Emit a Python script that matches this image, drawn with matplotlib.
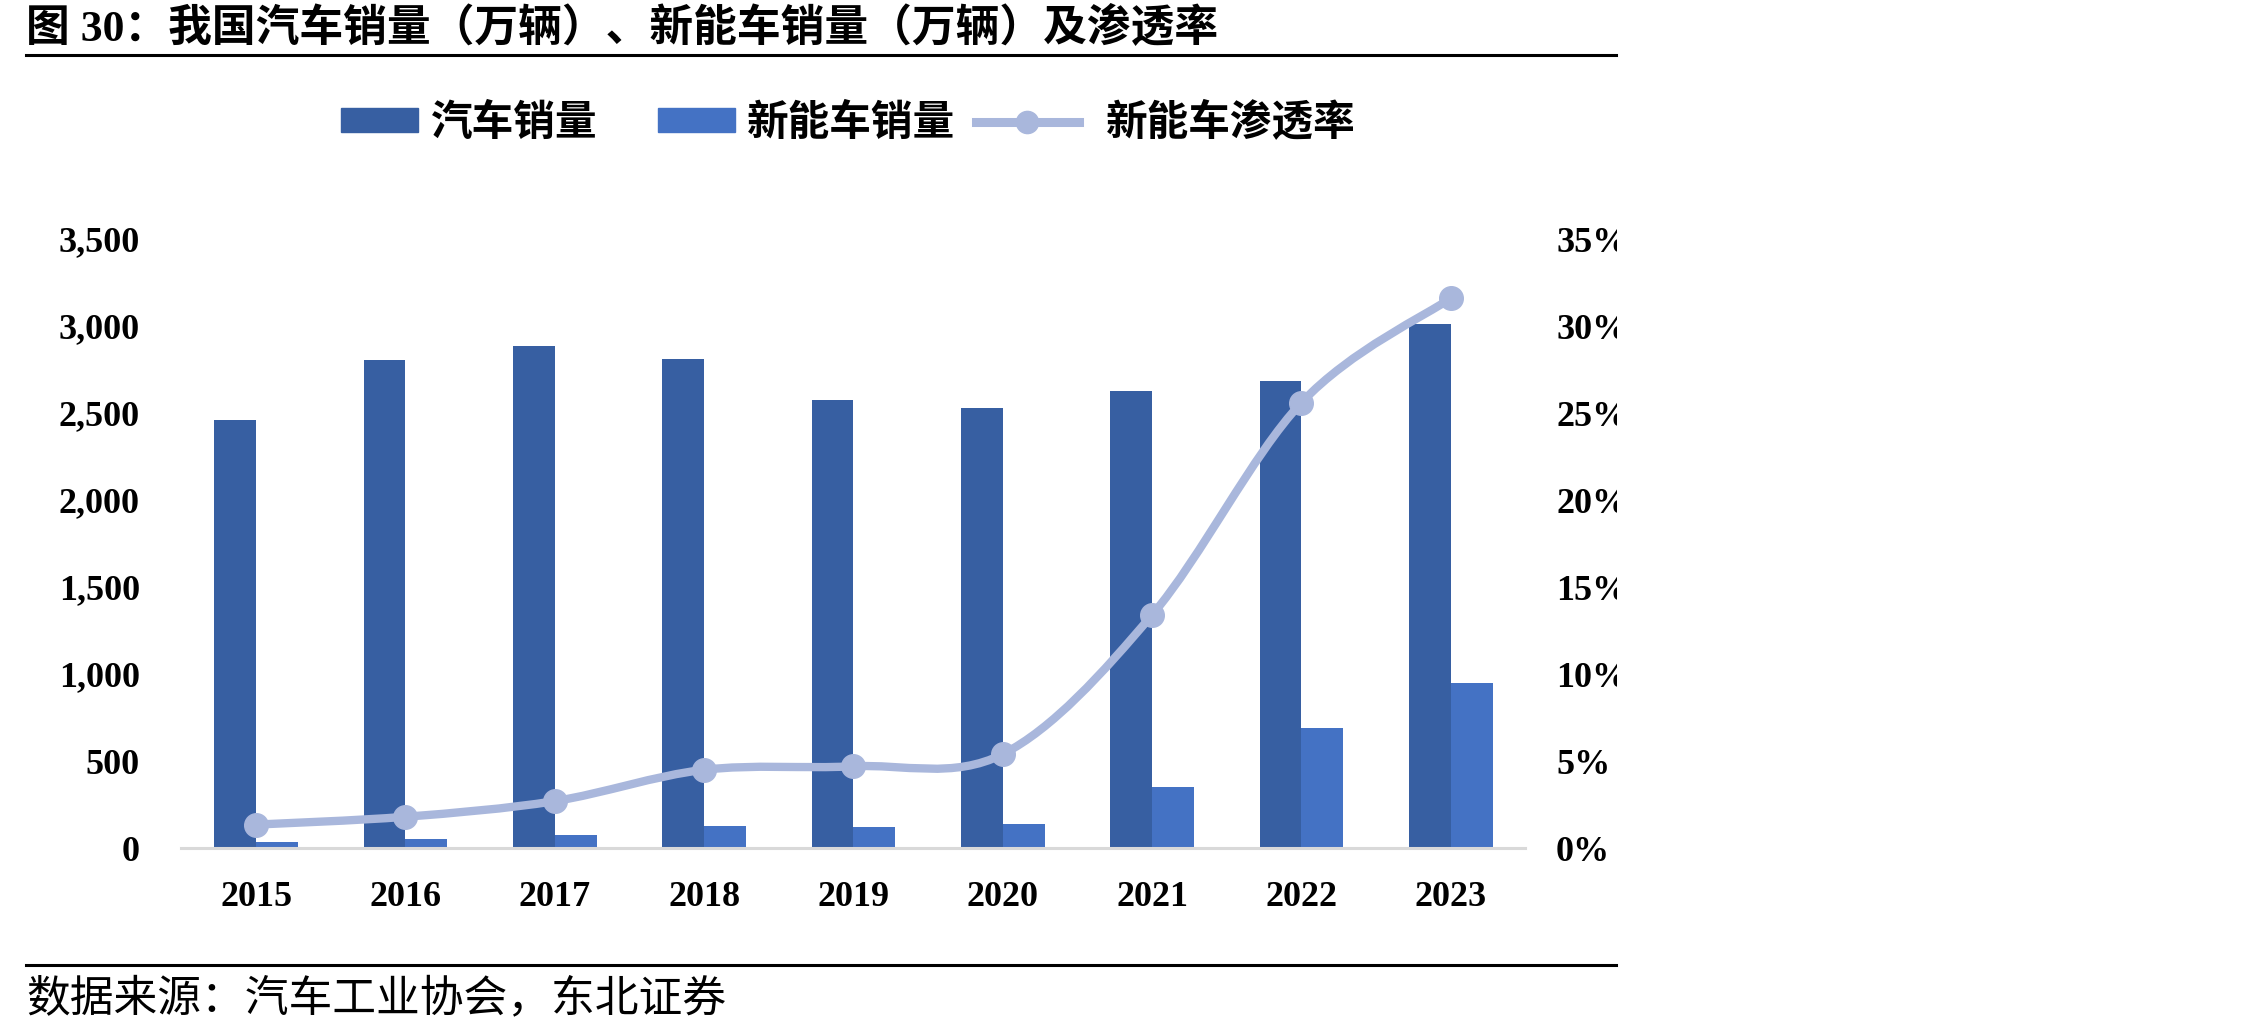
import numpy as np
import matplotlib
matplotlib.use("Agg")
import matplotlib.pyplot as plt
from matplotlib.path import Path
from matplotlib.patches import PathPatch, Patch
from matplotlib.lines import Line2D
from matplotlib.transforms import Bbox
from matplotlib.legend_handler import HandlerLine2D

# data
years = ["2015", "2016", "2017", "2018", "2019", "2020", "2021", "2022", "2023"]
car_sales = [2460, 2803, 2888, 2808, 2577, 2531, 2628, 2686, 3009]   # 万辆
nev_sales = [33, 51, 78, 126, 121, 137, 352, 689, 950]               # 万辆
nev_rate = [0.0135, 0.018, 0.027, 0.045, 0.047, 0.054, 0.134, 0.256, 0.316]

c_car = "#375FA2"
c_nev = "#4472C4"
c_rate = "#A9B7DC"

cjk = "Noto Sans CJK SC"
num_font = ["Liberation Serif", cjk]


def smooth_path(xs, ys):
    # excel-like smoothed line (catmull-rom as cubic bezier)
    pts = np.column_stack([xs, ys]).astype(float)
    n = len(pts)
    verts = [pts[0]]
    codes = [Path.MOVETO]
    for i in range(n - 1):
        p0 = pts[max(i - 1, 0)]
        p1 = pts[i]
        p2 = pts[i + 1]
        p3 = pts[min(i + 2, n - 1)]
        verts += [p1 + (p2 - p0) / 6, p2 - (p3 - p1) / 6, p2]
        codes += [Path.CURVE4] * 3
    return Path(verts, codes)


class LongLine(HandlerLine2D):
    # line handle reaches further left than the bar swatches
    def create_artists(self, legend, orig_handle, xdescent, ydescent, width,
                       height, fontsize, trans):
        left, right = 29, 10
        return super().create_artists(legend, orig_handle, xdescent + left, ydescent,
                                      width + left - right, height, fontsize, trans)


fig = plt.figure(figsize=(22.68, 10.33), dpi=100)
ax = fig.add_axes([0.0800, 0.179, 0.5926, 0.5896])
ax2 = ax.twinx()

x = np.arange(len(years))
w = 0.28
ax.bar(x - w / 2, car_sales, width=w, color=c_car, zorder=2)
ax.bar(x + w / 2, nev_sales, width=w, color=c_nev, zorder=2)

ax.set_xlim(-0.5, len(years) - 0.5)
ax.set_ylim(0, 3500)
ax.set_yticks(np.arange(0, 3501, 500))
ax.set_yticklabels([f"{v:,}" for v in range(0, 3501, 500)])
ax.set_xticks(x)
ax.set_xticklabels(years)

ax2.add_patch(PathPatch(smooth_path(x, nev_rate), fill=False, edgecolor=c_rate,
                        lw=6, capstyle="round", joinstyle="round", zorder=3))
ax2.plot(x, nev_rate, "o", color=c_rate, markersize=17, zorder=4)
ax2.set_ylim(0, 0.35)
ax2.set_yticks(np.arange(0, 0.351, 0.05))
ax2.set_yticklabels([f"{round(v * 100)}%" for v in np.arange(0, 0.351, 0.05)])

for a in (ax, ax2):
    for s in a.spines.values():
        s.set_visible(False)
    a.tick_params(length=0)
ax.spines["bottom"].set_visible(True)
ax.spines["bottom"].set_color("#D9D9D9")
ax.spines["bottom"].set_linewidth(2.2)

ax.tick_params(axis="y", pad=30)
ax.tick_params(axis="x", pad=24)
ax2.tick_params(axis="y", pad=22)
for lab in ax.get_yticklabels() + ax.get_xticklabels() + ax2.get_yticklabels():
    lab.set_family(num_font)
    lab.set_fontweight("bold")
    lab.set_fontsize(26)

# right labels are cut at the page edge in the original
clip = Bbox.from_extents(0, 0, 1617, 1033)
for lab in ax2.get_yticklabels():
    lab.set_clip_box(clip)
    lab.set_clip_on(True)

rate_handle = Line2D([], [], color=c_rate, lw=6.5, marker="o", markersize=16)
handles = [Patch(color=c_car), Patch(color=c_nev), rate_handle]
fig.legend(handles, ["汽车销量", "新能车销量", "新能车渗透率"], loc="center",
           bbox_to_anchor=(0.374, 0.881), ncol=3, frameon=False,
           prop={"family": cjk, "weight": "bold", "size": 30},
           handlelength=1.85, handleheight=0.5, handletextpad=0.3, columnspacing=1.45,
           handler_map={rate_handle: LongLine()})

fig.text(0.0115, 0.972, "图 30：我国汽车销量（万辆）、新能车销量（万辆）及渗透率",
         family=num_font, fontweight="bold", fontsize=31.5, va="center", ha="left")
fig.add_artist(Line2D([0.0115, 0.7125], [0.947, 0.947], color="black", lw=2.2))
fig.add_artist(Line2D([0.0115, 0.7125], [0.0658, 0.0658], color="black", lw=2.2))
fig.text(0.0115, 0.034, "数据来源：汽车工业协会，东北证券", family=cjk,
         fontsize=31.5, va="center", ha="left")

fig.savefig("out.png", dpi=100)
